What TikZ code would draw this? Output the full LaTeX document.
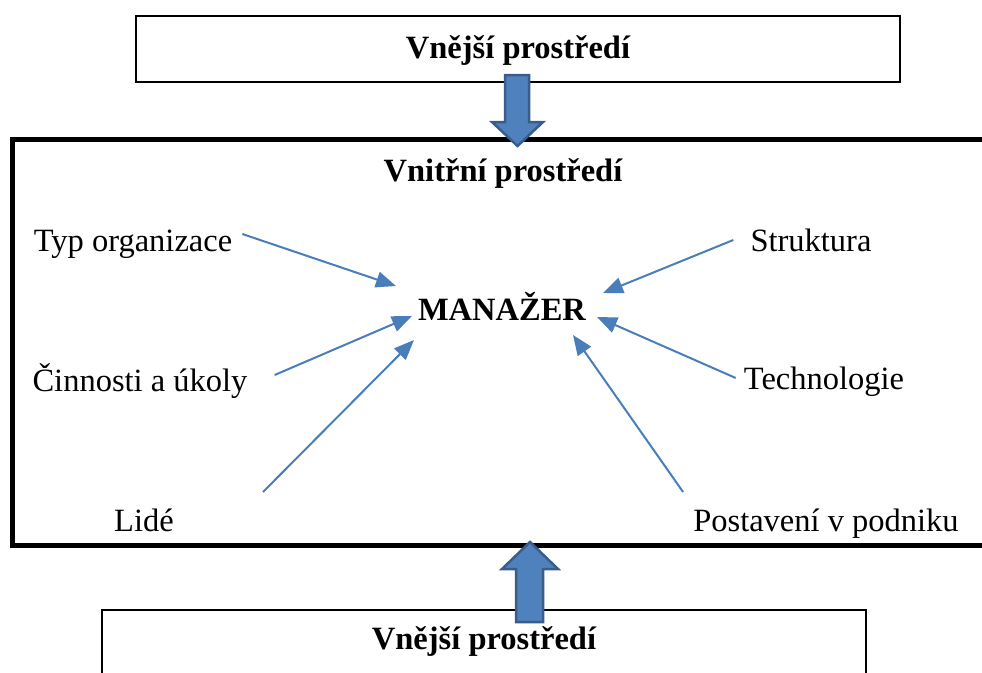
\documentclass[tikz,border=0pt]{standalone}
\usepackage{fontspec}
\setmainfont{Liberation Serif}
\usetikzlibrary{arrows.meta}
\definecolor{linkblue}{HTML}{4A7EBB}
\definecolor{fillblue}{HTML}{4F81BD}
\definecolor{edgeblue}{HTML}{385D8A}
\tikzset{
  lbl/.style={font=\fontsize{32.5}{38}\selectfont, inner sep=0pt, anchor=base},
  boldlbl/.style={lbl, font=\fontsize{32.5}{38}\selectfont\bfseries},
  link/.style={draw=linkblue, line width=2pt, -{Triangle[length=20pt,width=16pt]}},
  blockarrow/.style={fill=fillblue, draw=edgeblue, line width=2.5pt, line join=miter},
}
\begin{document}
\begin{tikzpicture}[x=1pt,y=-1pt]
  \useasboundingbox (0,0) rectangle (982,672);
  \draw[line width=2.5pt] (136,16) rectangle (900,82);
  \draw[line width=5pt] (12,139) rectangle (1000,545);
  \draw[line width=2.5pt] (102,610) rectangle (866,700);
  \node[boldlbl] (outtop) at (518,58) {Vnější prostředí};
  \node[boldlbl] (inner) at (503,181) {Vnitřní prostředí};
  \node[boldlbl] (outbot) at (484,649) {Vnější prostředí};
  \node[boldlbl] (man) at (502,320) {MANAŽER};
  \node[lbl] (typ) at (133,251) {Typ organizace};
  \node[lbl] (cin) at (140,391) {Činnosti a úkoly};
  \node[lbl] (lide) at (144,531) {Lidé};
  \node[lbl] (str) at (811,251) {Struktura};
  \node[lbl] (tech) at (824,389) {Technologie};
  \node[lbl] (post) at (826,531) {Postavení v podniku};
  \coordinate (tipA) at (396,286);
  \coordinate (tipB) at (412,316);
  \coordinate (tipC) at (414,340);
  \coordinate (tipD) at (603,293);
  \coordinate (tipE) at (597,317);
  \coordinate (tipF) at (573,335);
  \draw[link] ([shift={(10,-17)}]typ.base east) -- (tipA);
  \draw[link] ([shift={(27,-16)}]cin.base east) -- (tipB);
  \draw[link] ([shift={(89,-39)}]lide.base east) -- (tipC);
  \draw[link] ([shift={(-17,-11)}]str.base west) -- (tipD);
  \draw[link] ([shift={(-8,-11)}]tech.base west) -- (tipE);
  \draw[link] ([shift={(-10,-39)}]post.base west) -- (tipF);
  \draw[blockarrow] (505,75) -- (529,75) -- (529,122) -- (543,122) -- (517.5,146)
    -- (492,122) -- (505,122) -- cycle;
  \draw[blockarrow] (516,622) -- (543,622) -- (543,569) -- (558,569) -- (530,542)
    -- (502,569) -- (516,569) -- cycle;
\end{tikzpicture}
\end{document}
